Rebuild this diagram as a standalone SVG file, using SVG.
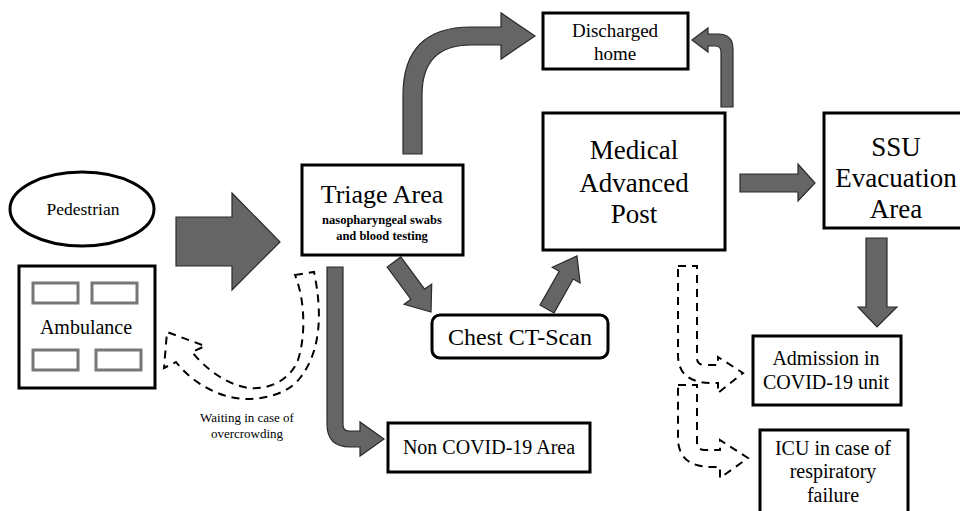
<svg xmlns="http://www.w3.org/2000/svg" width="960" height="511" viewBox="0 0 960 511">
<style>
.box{fill:#fff;stroke:#000;stroke-width:3}
.win{fill:#fff;stroke:#777;stroke-width:3}
.arr{fill:#656565;stroke:#2a2a2a;stroke-width:1.2;stroke-linejoin:miter}
.dash{fill:none;stroke:#000;stroke-width:2;stroke-dasharray:8,6}
.t{fill:#000;text-anchor:middle}
</style>
<g id="connectors">
<path class="arr" d="M176,217 L232,217 L232,193 L280,242 L232,290 L232,266 L176,266 Z"/>
<path class="arr" d="M403,154 L403,95 Q403,27 471,27 L501,27 L501,13 L535,36 L501,59 L501,45 L471,45 Q422,45 422,95 L422,154 Z"/>
<path class="arr" d="M721,107 L721,52 Q721,46 715,46 L708,46 L708,52 L692,40 L708,28 L708,34 L718,34 Q733,34 733,49 L733,107 Z"/>
<path class="arr" d="M400.8,256.9 L424.6,289.1 L431.7,284.1 L431,312 L404.1,304.3 L411,299.3 L387.2,267.1 Z"/>
<path class="arr" d="M554,312.9 L573.2,279 L580.1,283 L577,256 L552.3,267.2 L559.2,271.2 L540,305.1 Z"/>
<path class="arr" d="M327,267 L343,267 L343,425 Q343,431 349,431 L360,431 L360,422 L384,439 L360,456 L360,447 L350,447 Q327,447 327,424 Z"/>
<path class="arr" d="M740,174 L798,174 L798,164 L815,183 L798,201 L798,192 L740,192 Z"/>
<path class="arr" d="M866,238 L887,238 L887,307 L897,307 L877,327 L858,307 L866,307 Z"/>
<path class="dash" d="M295,275 L314,272 C322,310 322,350 300,378 C285,398 250,402 230,397 C210,392 190,380 176,362 L164,368 L167,332 L205,346 L192,352 C205,368 225,384 248,388 C270,390 290,380 298,360 C306,335 305,300 295,275 Z"/>
<path class="dash" d="M678,266 L697,266 L697,358 Q697,365 705,365 L718,365 L718,357 L743,373 L718,393 L718,383 L712,383 Q678,383 678,355 Z"/>
<path class="dash" d="M678,385 L697,385 L697,443 Q697,450 705,450 L720,450 L720,440 L748,458 L720,478 L720,467 L712,467 Q678,467 678,438 Z"/>
</g>
<g font-family="'Liberation Serif', 'Times New Roman', Times, 'DejaVu Serif', serif">
<g id="pedestrian">
<ellipse class="box" cx="82" cy="209" rx="72" ry="37"/>
<text class="t" x="83" y="215" font-size="17.5">Pedestrian</text>
</g>
<g id="ambulance">
<rect class="box" x="19" y="266" width="136" height="122"/>
<rect class="win" x="33" y="283" width="45" height="20"/>
<rect class="win" x="92" y="283" width="45" height="20"/>
<rect class="win" x="33" y="350" width="45" height="20"/>
<rect class="win" x="96" y="350" width="45" height="20"/>
<text class="t" x="86" y="334" font-size="20">Ambulance</text>
</g>
<g id="waiting-label">
<text class="t" x="247" y="422" font-size="13">Waiting in case of</text>
<text class="t" x="247" y="438" font-size="13">overcrowding</text>
</g>
<g id="triage">
<rect class="box" x="302" y="165" width="161" height="90"/>
<text class="t" x="382" y="203" font-size="26">Triage Area</text>
<text class="t" x="382" y="224" font-size="12.5" font-weight="bold">nasopharyngeal swabs</text>
<text class="t" x="382" y="240" font-size="12.5" font-weight="bold">and blood testing</text>
</g>
<g id="chest-ct">
<rect class="box" x="432" y="315" width="176" height="43" rx="8" ry="8"/>
<text class="t" x="520" y="345" font-size="24">Chest CT-Scan</text>
</g>
<g id="non-covid">
<rect class="box" x="388" y="423" width="202" height="49"/>
<text class="t" x="489" y="454" font-size="20">Non COVID-19 Area</text>
</g>
<g id="discharged">
<rect class="box" x="543" y="13" width="145" height="56"/>
<text class="t" x="615" y="37" font-size="19">Discharged</text>
<text class="t" x="615" y="60" font-size="19">home</text>
</g>
<g id="medical">
<rect class="box" x="543" y="113" width="182" height="137"/>
<text class="t" x="634" y="159" font-size="27">Medical</text>
<text class="t" x="634" y="192" font-size="27">Advanced</text>
<text class="t" x="634" y="223" font-size="27">Post</text>
</g>
<g id="ssu">
<rect class="box" x="824" y="113" width="140" height="115"/>
<text class="t" x="896" y="156" font-size="27">SSU</text>
<text class="t" x="896" y="187" font-size="27">Evacuation</text>
<text class="t" x="896" y="218" font-size="27">Area</text>
</g>
<g id="admission">
<rect class="box" x="753" y="336" width="148" height="69"/>
<text class="t" x="826" y="365" font-size="20">Admission in</text>
<text class="t" x="826" y="389" font-size="20">COVID-19 unit</text>
</g>
<g id="icu">
<rect class="box" x="760" y="430" width="148" height="84"/>
<text class="t" x="833" y="455" font-size="20">ICU in case of</text>
<text class="t" x="833" y="478" font-size="20">respiratory</text>
<text class="t" x="833" y="502" font-size="20">failure</text>
</g>
</g>
</svg>
